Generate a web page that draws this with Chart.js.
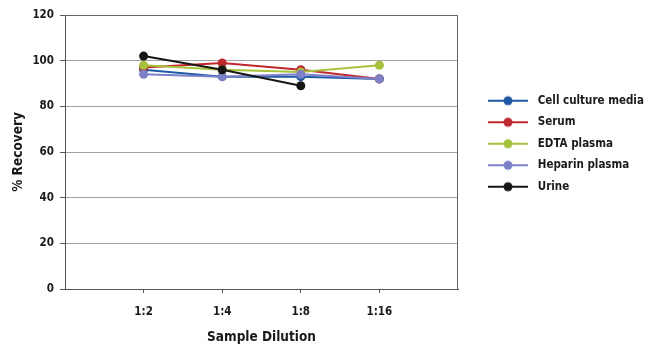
<!DOCTYPE html>
<html>
<head>
<meta charset="utf-8">
<script src="https://cdn.jsdelivr.net/npm/chart.js@4.4.1/dist/chart.umd.min.js"></script>
<style>
  html, body { margin: 0; padding: 0; background: #fff; }
  #wrap { width: 650px; height: 358px; }
</style>
</head>
<body>
<div id="wrap"><canvas id="recovery"></canvas></div>
<script>
  // values
  var dilutions = ['1:2', '1:4', '1:8', '1:16'];
  var seriesNames = ['Cell culture media', 'Serum', 'EDTA plasma', 'Heparin plasma', 'Urine'];
  var cellCulture = [96, 93, 93, 92];
  var serum = [97, 99, 96, 92];
  var edtaPlasma = [98, 96, 95, 98];
  var heparinPlasma = [94, 93, 94, 92];
  var urine = [102, 96, 89, null];
  var yTicks = [0, 20, 40, 60, 80, 100, 120];

  var COLORS = ['#1f5aa6', '#c1272d', '#a5c23a', '#7c80c8', '#161616'];
  var FONT = "'Liberation Sans Narrow', 'DejaVu Sans Condensed', sans-serif";
  var TEXT = '#1a1a1a';
  var LEGEND_W = 192;

  // blank category at each end so the points sit inside the frame
  var labels = [''].concat(dilutions, ['']);
  function pad(values) { return [null].concat(values, [null]); }

  function legendMarker(color) {
    var c = document.createElement('canvas');
    c.width = 64;
    c.height = 12;
    var g = c.getContext('2d');
    g.strokeStyle = color;
    g.lineWidth = 2;
    g.beginPath();
    g.moveTo(20, 6);
    g.lineTo(60, 6);
    g.stroke();
    g.fillStyle = color;
    g.beginPath();
    g.arc(40, 6, 4.5, 0, Math.PI * 2);
    g.fill();
    return c;
  }

  var allValues = [cellCulture, serum, edtaPlasma, heparinPlasma, urine];
  var datasets = allValues.map(function (vals, i) {
    return {
      label: seriesNames[i],
      data: pad(vals),
      borderColor: COLORS[i],
      backgroundColor: COLORS[i],
      borderWidth: 2,
      pointRadius: 4.5,
      pointHoverRadius: 4.5,
      pointBorderWidth: 0,
      tension: 0,
      order: -i,
      marker: legendMarker(COLORS[i]),
    };
  });

  var framePlugin = {
    id: 'frame',
    beforeInit: function (chart) {
      var legend = chart.legend;
      var fit = legend.fit;
      legend.fit = function () {
        fit.call(this);
        this.width = LEGEND_W;
      };
    },
    afterDatasetsDraw: function (chart) {
      var a = chart.chartArea;
      var ctx = chart.ctx;
      ctx.save();
      ctx.strokeStyle = '#666';
      ctx.lineWidth = 1;
      ctx.beginPath();
      ctx.moveTo(a.left, a.top + 0.5);
      ctx.lineTo(a.right - 0.5, a.top + 0.5);
      ctx.lineTo(a.right - 0.5, a.bottom);
      ctx.stroke();
      ctx.restore();
    },
  };

  new Chart(document.getElementById('recovery').getContext('2d'), {
    type: 'line',
    data: { labels: labels, datasets: datasets },
    options: {
      responsive: true,
      maintainAspectRatio: false,
      animation: false,
      layout: { padding: { top: 15, left: 0, right: 0, bottom: 0 } },
      scales: {
        x: {
          type: 'category',
          offset: false,
          afterFit: function (s) { s.height = 69; },
          border: { display: true, color: '#555', width: 1 },
          grid: {
            display: true,
            drawOnChartArea: false,
            drawTicks: true,
            tickLength: 4,
            tickColor: function (c) {
              return (c.index === 0 || c.index === labels.length - 1) ? 'rgba(0,0,0,0)' : '#555';
            },
          },
          ticks: {
            autoSkip: false,
            maxRotation: 0,
            padding: 12,
            color: TEXT,
            font: { family: FONT, size: 11.5, weight: 'bold' },
          },
          title: {
            display: true,
            text: 'Sample Dilution',
            color: TEXT,
            font: { family: FONT, size: 13.5, weight: 'bold' },
            padding: { top: 0, bottom: 12 },
          },
        },
        y: {
          min: 0,
          max: 120,
          afterFit: function (s) { s.width = 65; },
          afterBuildTicks: function (s) {
            s.ticks = yTicks.map(function (v) { return { value: v }; });
          },
          border: { display: true, color: '#555', width: 1 },
          grid: {
            color: '#a3a3a3',
            lineWidth: 1,
            tickLength: 5,
            tickColor: '#555',
          },
          ticks: {
            padding: 6,
            color: TEXT,
            font: { family: FONT, size: 11.5, weight: 'bold' },
          },
          title: {
            display: true,
            text: '% Recovery',
            color: TEXT,
            font: { family: FONT, size: 13.5, weight: 'bold' },
            padding: { top: 10, bottom: 0 },
          },
        },
      },
      plugins: {
        tooltip: { enabled: false },
        legend: {
          position: 'right',
          align: 'start',
          title: { display: true, text: '', font: { size: 1 }, padding: { top: 68.8, bottom: 0 } },
          labels: {
            usePointStyle: true,
            pointStyleWidth: 64,
            padding: 10,
            color: TEXT,
            font: { family: FONT, size: 11.5, weight: 'bold' },
            generateLabels: function (chart) {
              return chart.data.datasets.map(function (ds, i) {
                return {
                  text: ds.label,
                  fillStyle: ds.borderColor,
                  strokeStyle: ds.borderColor,
                  lineWidth: 0,
                  pointStyle: ds.marker,
                  fontColor: TEXT,
                  hidden: false,
                  datasetIndex: i,
                };
              });
            },
          },
        },
      },
    },
    plugins: [framePlugin],
  });
</script>
</body>
</html>
